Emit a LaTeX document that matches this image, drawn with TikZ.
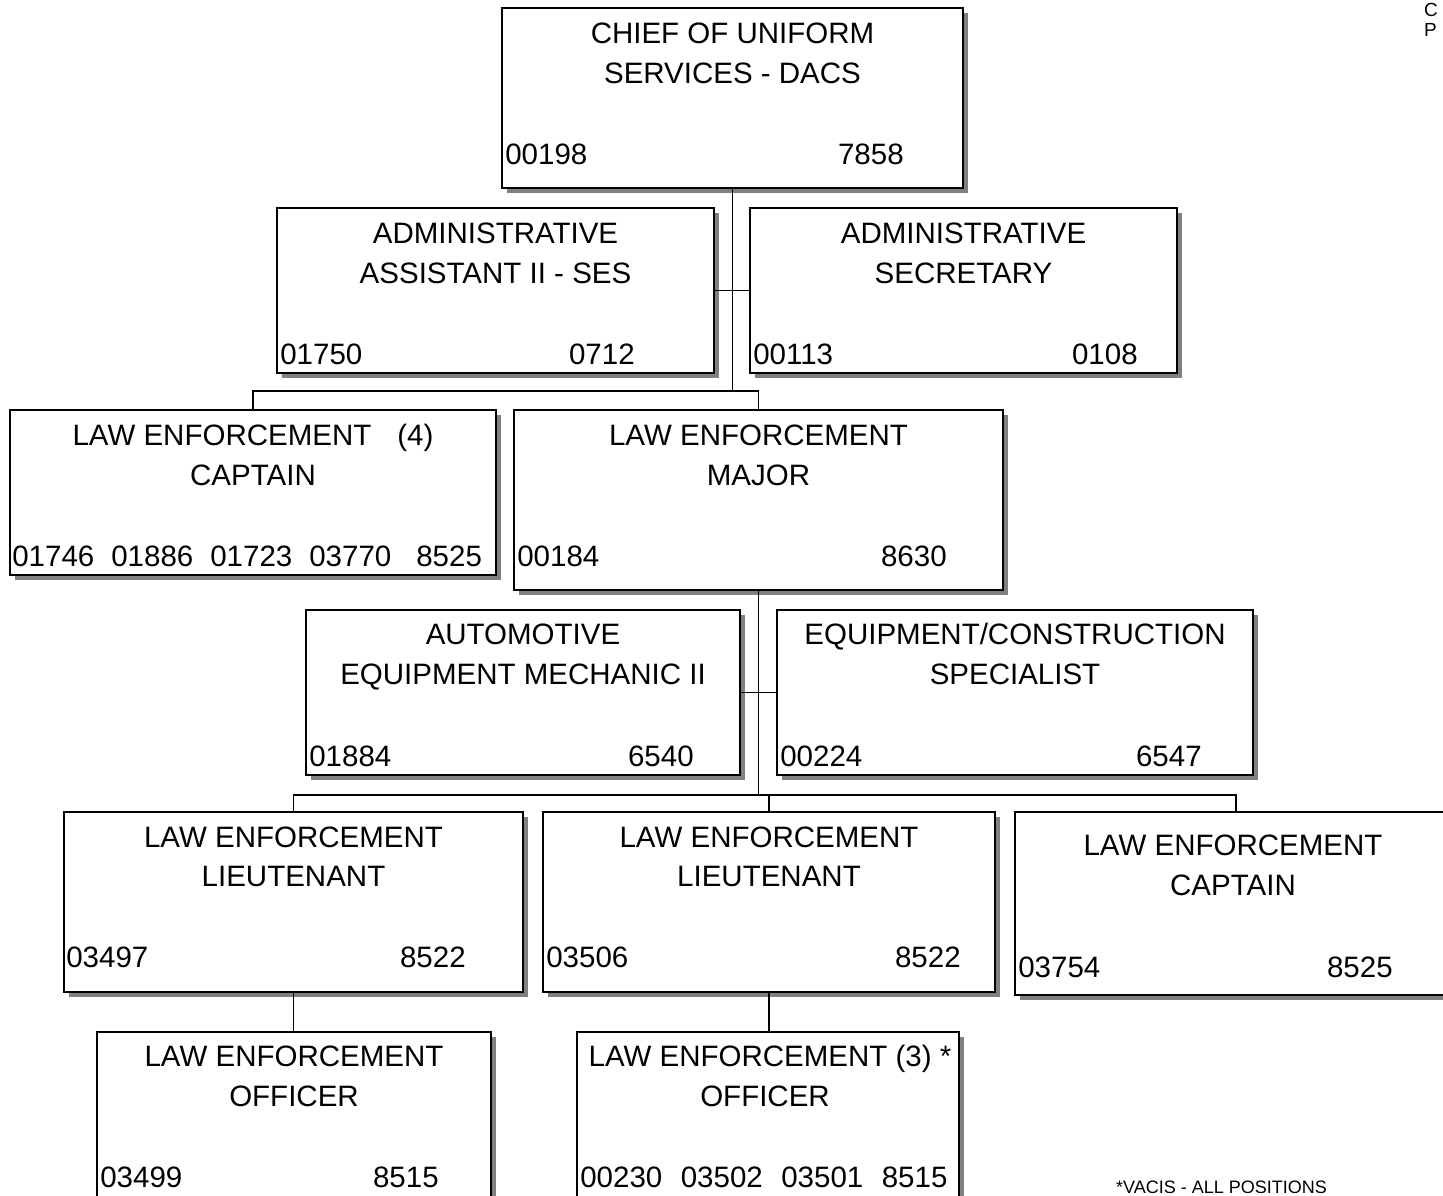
\documentclass[tikz,border=0pt]{standalone}
\usepackage{fontspec}
\setmainfont{Liberation Sans}
\usetikzlibrary{shadows}
\begin{document}
\begin{tikzpicture}[x=1pt,y=-1pt,
        posbox/.style={draw,line width=1.8pt,fill=white,inner sep=0pt,
            drop shadow={shadow xshift=5pt,shadow yshift=-5pt,fill=gray,opacity=1}},
        title/.style={anchor=base,inner sep=0pt,font=\fontsize{29.5}{35}\selectfont},
        numl/.style={anchor=base west,inner sep=0pt,font=\fontsize{29.5}{35}\selectfont},
        numr/.style={anchor=base east,inner sep=0pt,font=\fontsize{29.5}{35}\selectfont},
        link/.style={line width=1.5pt}]
                \useasboundingbox (0,0) rectangle (1443,1195);
                \clip (0,0) rectangle (1443,1195);
                % links
                \coordinate (bus1) at (732.5,391);
                \coordinate (bus2) at (758.5,795);
                \node[posbox,minimum width=461pt,minimum height=180pt](chief) at (732.5,98){};
                \node[posbox,minimum width=437pt,minimum height=165pt](adminA) at (495.5,290.5){};
                \node[posbox,minimum width=427pt,minimum height=165pt](adminS) at (963.5,290.5){};
                \node[posbox,minimum width=486pt,minimum height=165pt](capt4) at (253,492.5){};
                \node[posbox,minimum width=489pt,minimum height=180pt](major) at (758.5,500){};
                \node[posbox,minimum width=434pt,minimum height=165pt](auto) at (523,692.5){};
                \node[posbox,minimum width=476pt,minimum height=165pt](equip) at (1015,692.5){};
                \node[posbox,minimum width=459pt,minimum height=180pt](ltA) at (293.5,902){};
                \node[posbox,minimum width=452pt,minimum height=180pt](ltB) at (769,902){};
                \node[posbox,minimum width=442pt,minimum height=183pt](captR) at (1236,903.5){};
                \node[posbox,minimum width=394pt,minimum height=168pt](offA) at (294,1116){};
                \node[posbox,minimum width=382pt,minimum height=168pt](offB) at (768,1116){};
                \draw[link](chief.south) -- (bus1);
                \draw[link](adminA.east) -- (adminS.west);
                \draw[link](capt4.north) |- (bus1) -| (major.north);
                \draw[link](major.south) -- (bus2);
                \draw[link](auto.east) -- (equip.west);
                \draw[link](ltA.north) |- (bus2) -| (captR.north);
                \draw[link](ltB.north) -- (ltB.north |- bus2);
                \draw[link](ltA.south) -- (ltA.south |- offA.north);
                \draw[link](ltB.south) -- (ltB.south |- offB.north);
                % texts
                \node[title](chiefA) at ([yshift=-36pt]chief.north){CHIEF OF UNIFORM};
                \node[title](chiefB) at ([yshift=-76pt]chief.north){SERVICES - DACS};
                \node[numl](chiefL) at ([xshift=4pt,yshift=-157pt]chief.north west){00198};
                \node[numr](chiefR) at ([xshift=-60pt,yshift=-157pt]chief.north east){7858};
                \node[title](adminAA) at ([yshift=-36pt]adminA.north){ADMINISTRATIVE};
                \node[title](adminAB) at ([yshift=-76pt]adminA.north){ASSISTANT II - SES};
                \node[numl](adminAL) at ([xshift=4pt,yshift=-157pt]adminA.north west){01750};
                \node[numr](adminAR) at ([xshift=-80pt,yshift=-157pt]adminA.north east){0712};
                \node[title](adminSA) at ([yshift=-36pt]adminS.north){ADMINISTRATIVE};
                \node[title](adminSB) at ([yshift=-76pt]adminS.north){SECRETARY};
                \node[numl](adminSL) at ([xshift=4pt,yshift=-157pt]adminS.north west){00113};
                \node[numr](adminSR) at ([xshift=-40pt,yshift=-157pt]adminS.north east){0108};
                \node[title](capt4A) at ([yshift=-36pt]capt4.north){LAW ENFORCEMENT\hspace{26pt}(4)};
                \node[title](capt4B) at ([yshift=-76pt]capt4.north){CAPTAIN};
                \node[numl](capt4L) at ([xshift=3pt,yshift=-157pt]capt4.north west){01746\hspace{17pt}01886\hspace{17pt}01723\hspace{17pt}03770\hspace{25pt}8525};
                \node[title](majorA) at ([yshift=-36pt]major.north){LAW ENFORCEMENT};
                \node[title](majorB) at ([yshift=-76pt]major.north){MAJOR};
                \node[numl](majorL) at ([xshift=4pt,yshift=-157pt]major.north west){00184};
                \node[numr](majorR) at ([xshift=-57pt,yshift=-157pt]major.north east){8630};
                \node[title](autoA) at ([yshift=-35pt]auto.north){AUTOMOTIVE};
                \node[title](autoB) at ([yshift=-75pt]auto.north){EQUIPMENT MECHANIC II};
                \node[numl](autoL) at ([xshift=4pt,yshift=-157pt]auto.north west){01884};
                \node[numr](autoR) at ([xshift=-47pt,yshift=-157pt]auto.north east){6540};
                \node[title](equipA) at ([yshift=-35pt]equip.north){EQUIPMENT/CONSTRUCTION};
                \node[title](equipB) at ([yshift=-75pt]equip.north){SPECIALIST};
                \node[numl](equipL) at ([xshift=4pt,yshift=-157pt]equip.north west){00224};
                \node[numr](equipR) at ([xshift=-52pt,yshift=-157pt]equip.north east){6547};
                \node[title](ltAA) at ([yshift=-36pt]ltA.north){LAW ENFORCEMENT};
                \node[title](ltAB) at ([yshift=-75pt]ltA.north){LIEUTENANT};
                \node[numl](ltAL) at ([xshift=3pt,yshift=-156pt]ltA.north west){03497};
                \node[numr](ltAR) at ([xshift=-58pt,yshift=-156pt]ltA.north east){8522};
                \node[title](ltBA) at ([yshift=-36pt]ltB.north){LAW ENFORCEMENT};
                \node[title](ltBB) at ([yshift=-75pt]ltB.north){LIEUTENANT};
                \node[numl](ltBL) at ([xshift=4pt,yshift=-156pt]ltB.north west){03506};
                \node[numr](ltBR) at ([xshift=-35pt,yshift=-156pt]ltB.north east){8522};
                \node[title](captRA) at ([xshift=-3pt,yshift=-44pt]captR.north){LAW ENFORCEMENT};
                \node[title](captRB) at ([xshift=-3pt,yshift=-84pt]captR.north){CAPTAIN};
                \node[numl](captRL) at ([xshift=4pt,yshift=-166pt]captR.north west){03754};
                \node[numr](captRR) at ([xshift=-65pt,yshift=-166pt]captR.north east){8525};
                \node[title](offAA) at ([yshift=-35pt]offA.north){LAW ENFORCEMENT};
                \node[title](offAB) at ([yshift=-75pt]offA.north){OFFICER};
                \node[numl](offAL) at ([xshift=4pt,yshift=-156pt]offA.north west){03499};
                \node[numr](offAR) at ([xshift=-53pt,yshift=-156pt]offA.north east){8515};
                \node[title](offBA) at ([xshift=2pt,yshift=-35pt]offB.north){LAW ENFORCEMENT (3) *};
                \node[title](offBB) at ([xshift=-3pt,yshift=-75pt]offB.north){OFFICER};
                \node[numl](offBL) at ([xshift=4pt,yshift=-156pt]offB.north west){00230\hspace{18.5pt}03502\hspace{18.5pt}03501\hspace{18.5pt}8515};
                \node[anchor=base west,inner sep=0pt,font=\fontsize{18}{20}\selectfont](note) at (1116,1193){*VACIS - ALL POSITIONS};
                \node[anchor=base west,inner sep=0pt,font=\fontsize{19}{22}\selectfont](cornerC) at (1424,16){C};
                \node[anchor=base west,inner sep=0pt,font=\fontsize{19}{22}\selectfont](cornerP) at (1424,36){P};
            \end{tikzpicture}
\end{document}
